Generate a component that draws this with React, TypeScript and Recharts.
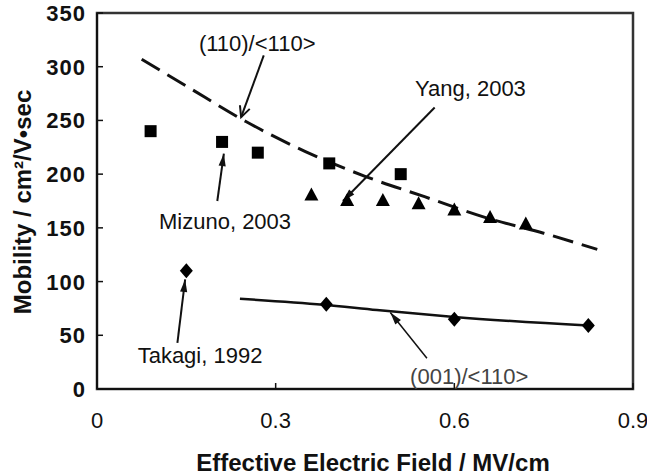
import React from "react";
import {
  ComposedChart,
  Line,
  Scatter,
  XAxis,
  YAxis,
  ReferenceArea,
  ReferenceLine,
  ReferenceDot,
  Label,
} from "recharts";

const FONT = '"Liberation Sans", Arial, sans-serif';
const INK = "#111";

// fitted curves
const trend110X = [0.075, 0.15, 0.25, 0.35, 0.45, 0.55, 0.65, 0.75, 0.84];
const trend110Y = [307, 282, 249, 221, 198, 179, 160, 145, 130];
const trend001X = [0.24, 0.38, 0.47, 0.6, 0.825];
const trend001Y = [84, 78.5, 73.5, 67, 59];

// measured points
const mizunoX = [0.09, 0.21, 0.27, 0.39, 0.51];
const mizunoY = [240, 230, 220, 210, 200];
const yangX = [0.36, 0.42, 0.48, 0.54, 0.6, 0.66, 0.72];
const yangY = [181, 176, 176, 173, 167, 160, 154];
const takagiX = [0.15];
const takagiY = [110];
const diamondX = [0.385, 0.6, 0.825];
const diamondY = [79, 65, 59];

const xTicks = [0, 0.3, 0.6, 0.9];
const yTicks = [0, 50, 100, 150, 200, 250, 300, 350];

// annotations (data coordinates)
const noteText = ["(110)/<110>", "Mizuno, 2003", "Yang, 2003", "Takagi, 1992", "(001)/<110>"];
const noteX = [0.269, 0.215, 0.627, 0.173, 0.625];
const noteY = [322, 156, 280, 32, 12];
const arrowFromX = [0.28, 0.202, 0.567, 0.135, 0.554];
const arrowFromY = [310.5, 175, 262, 43, 28.6];
const arrowToX = [0.242, 0.213, 0.413, 0.148, 0.4925];
const arrowToY = [253, 219, 175, 102, 71.2];

const zip = (xs: number[], ys: number[]) => xs.map((x, i) => ({ x, y: ys[i] }));

const square = (p: any) => (
  <rect x={p.cx - 6} y={p.cy - 6} width={12} height={12} fill="#000" />
);
const triangle = (p: any) => (
  <polygon
    points={`${p.cx},${p.cy - 7} ${p.cx + 7},${p.cy + 6} ${p.cx - 7},${p.cy + 6}`}
    fill="#000"
  />
);
const diamond = (p: any) => (
  <polygon
    points={`${p.cx},${p.cy - 7.5} ${p.cx + 6.5},${p.cy} ${p.cx},${p.cy + 7.5} ${p.cx - 6.5},${p.cy}`}
    fill="#000"
  />
);

const arrowShape = (open: boolean, w: number) => (p: any) => {
  const { x1, y1, x2, y2 } = p;
  const a = Math.atan2(y2 - y1, x2 - x1);
  const len = open ? 12 : 13;
  const spread = open ? 0.45 : 0.28;
  const ax = x2 - len * Math.cos(a - spread);
  const ay = y2 - len * Math.sin(a - spread);
  const bx = x2 - len * Math.cos(a + spread);
  const by = y2 - len * Math.sin(a + spread);
  return (
    <g>
      <line x1={x1} y1={y1} x2={x2} y2={y2} stroke={INK} strokeWidth={w} />
      {open ? (
        <polyline
          points={`${ax},${ay} ${x2},${y2} ${bx},${by}`}
          fill="none"
          stroke={INK}
          strokeWidth={w}
        />
      ) : (
        <polygon points={`${ax},${ay} ${x2},${y2} ${bx},${by}`} fill={INK} />
      )}
    </g>
  );
};

const XTick = (p: any) => {
  const { x, y, payload } = p;
  return (
    <g>
      <line x1={x} x2={x} y1={y} y2={y - 6} stroke={INK} strokeWidth={1.5} />
      <text x={x} y={y + 39} textAnchor="middle" fontSize={22} fontFamily={FONT} fill={INK}>
        {payload.value}
      </text>
    </g>
  );
};

const YTick = (p: any) => {
  const { x, y, payload } = p;
  return (
    <g>
      <line x1={x + 11} x2={x + 17} y1={y} y2={y} stroke={INK} strokeWidth={1.5} />
      <text
        x={x}
        y={y + 8}
        textAnchor="end"
        fontSize={22}
        fontWeight="bold"
        letterSpacing={1}
        fontFamily={FONT}
        fill={INK}
      >
        {payload.value}
      </text>
    </g>
  );
};

export default function App() {
  return (
    <div style={{ width: 647, height: 476, background: "#fff" }}>
      <style>{"body{margin:0}"}</style>
      <ComposedChart
        width={647}
        height={476}
        margin={{ top: 13, right: 14, bottom: 0, left: 0 }}
      >
        <ReferenceArea
          x1={0}
          x2={0.9}
          y1={0}
          y2={350}
          fill="none"
          stroke="#333"
          strokeWidth={2.5}
          ifOverflow="visible"
        />
        <XAxis
          type="number"
          dataKey="x"
          domain={[0, 0.9]}
          ticks={xTicks}
          height={87}
          tickSize={0}
          tickMargin={0}
          tickLine={false}
          axisLine={{ stroke: INK, strokeWidth: 2 }}
          tick={<XTick />}
          interval={0}
        >
          <Label
            content={(p: any) => {
              const vb = p.viewBox;
              return (
                <text
                  x={vb.x + vb.width / 2 + 8}
                  y={vb.y + 82}
                  textAnchor="middle"
                  fontSize={24}
                  fontWeight="bold"
                  fontFamily={FONT}
                  fill={INK}
                >
                  Effective Electric Field / MV/cm
                </text>
              );
            }}
          />
        </XAxis>
        <YAxis
          type="number"
          domain={[0, 350]}
          ticks={yTicks}
          width={97}
          tickSize={0}
          tickMargin={11}
          tickLine={false}
          axisLine={{ stroke: INK, strokeWidth: 2 }}
          tick={<YTick />}
          interval={0}
        >
          <Label
            content={(p: any) => {
              const vb = p.viewBox;
              const cx = 22;
              const cy = vb.y + vb.height / 2 + 1;
              return (
                <text
                  x={cx}
                  y={cy}
                  transform={`rotate(-90 ${cx} ${cy})`}
                  textAnchor="middle"
                  dominantBaseline="central"
                  fontSize={24}
                  fontWeight="bold"
                  fontFamily={FONT}
                  fill={INK}
                >
                  Mobility / cm²/V•sec
                </text>
              );
            }}
          />
        </YAxis>

        <Line
          data={zip(trend110X, trend110Y)}
          dataKey="y"
          type="monotone"
          stroke={INK}
          strokeWidth={3}
          strokeDasharray="21 9"
          dot={false}
          isAnimationActive={false}
        />
        <Line
          data={zip(trend001X, trend001Y)}
          dataKey="y"
          type="monotone"
          stroke={INK}
          strokeWidth={2.5}
          dot={false}
          isAnimationActive={false}
        />
        <Scatter data={zip(mizunoX, mizunoY)} dataKey="y" shape={square} isAnimationActive={false} />
        <Scatter data={zip(yangX, yangY)} dataKey="y" shape={triangle} isAnimationActive={false} />
        <Scatter data={zip(takagiX, takagiY)} dataKey="y" shape={diamond} isAnimationActive={false} />
        <Scatter data={zip(diamondX, diamondY)} dataKey="y" shape={diamond} isAnimationActive={false} />

        {noteText.map((t, i) => (
          <ReferenceLine
            key={"a" + i}
            segment={[
              { x: arrowFromX[i], y: arrowFromY[i] },
              { x: arrowToX[i], y: arrowToY[i] },
            ]}
            ifOverflow="visible"
            shape={arrowShape(i === 0, i === 4 ? 1.5 : 2)}
          />
        ))}
        {noteText.map((t, i) => (
          <ReferenceDot
            key={"n" + i}
            x={noteX[i]}
            y={noteY[i]}
            r={0}
            ifOverflow="visible"
            shape={(p: any) => (
              <text
                x={p.cx}
                y={p.cy + 8}
                textAnchor="middle"
                fontSize={22}
                fontFamily={FONT}
                fill={i === 4 ? "#444" : INK}
              >
                {t}
              </text>
            )}
          />
        ))}
      </ComposedChart>
    </div>
  );
}
